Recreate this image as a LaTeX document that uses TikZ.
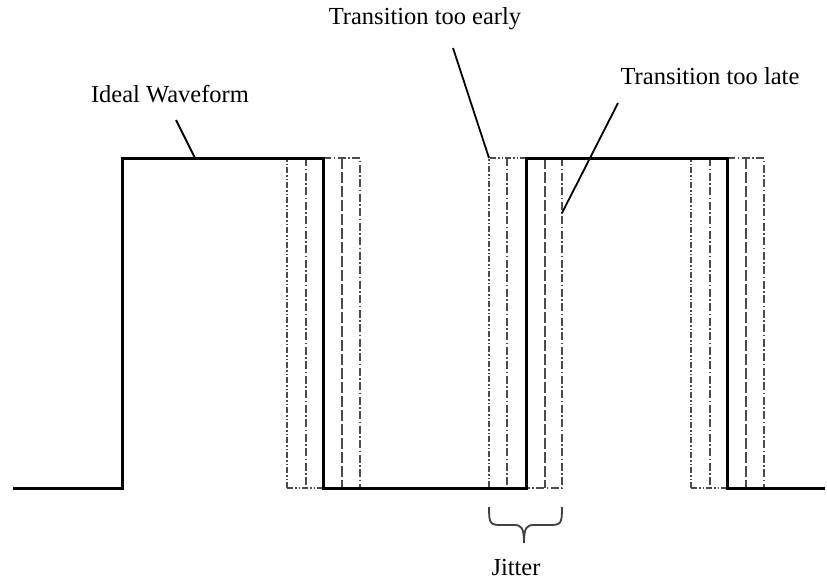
\documentclass[tikz,border=0pt]{standalone}
\usepackage{fontspec}
\setmainfont{Liberation Serif}
\begin{document}
\begin{tikzpicture}[x=1pt,y=-1pt,
  wave/.style={line width=3pt,black,line join=miter},
  jit/.style={line width=2pt,black!70},
  dd/.style={jit,dash pattern=on 6pt off 2pt on 1.5pt off 2pt on 1.5pt off 2pt},
  dt/.style={jit,dash pattern=on 8pt off 2.5pt on 1.5pt off 2.5pt},
  ld/.style={jit,dash pattern=on 11pt off 3pt},
  lbl/.style={font=\fontsize{24.5}{29}\selectfont,inner sep=0pt,text=black},
  lead/.style={line width=1.8pt,black}]
\useasboundingbox (0,0) rectangle (827,582);
% jitter edges (dashed)
\foreach \e in {323,727}{
  \draw[dd] (\e-36,488) -- (\e-36,158);
  \draw[dd] (\e-36,488) -- (\e,488);
  \draw[dt] (\e-17,158) -- (\e-17,488);
  \draw[ld] (\e+19,158) -- (\e+19,488);
  \draw[dt] (\e,158) -- (\e+37,158) -- (\e+37,488);
}
\draw[dd] (526,158) -- (489,158) -- (489,488);
\draw[dt] (507,158) -- (507,488);
\draw[ld] (545,158) -- (545,488);
\draw[dt] (562,158) -- (562,488) -- (526,488);
% ideal waveform
\draw[wave] (13,488) -- (122,488) -- (122,158) -- (323,158) -- (323,488)
  -- (526,488) -- (526,158) -- (727,158) -- (727,488) -- (825,488);
% labels
\node[lbl] (ideal) at (170,94) {Ideal Waveform};
\node[lbl] (early) at (425,19) {Transition too early};
\node[lbl] (late) at (710,76) {Transition too late};
\node[lbl] (jitter) at (516,567) {Jitter};
\coordinate (ideal0) at (176,120);
\coordinate (ideal1) at (195,158);
\coordinate (early0) at (453,48);
\coordinate (early1) at (489,158);
\coordinate (late0) at (618,103);
\coordinate (late1) at (562,213);
\draw[lead] (ideal0) -- (ideal1);
\draw[lead] (early0) -- (early1);
\draw[lead] (late0) -- (late1);
% brace
\coordinate (bl) at (489,507);
\coordinate (br) at (562,507);
\coordinate (btip) at (524,543);
\draw[line width=1.8pt,black!75]
  (bl) .. controls (489,524) and (490,525) .. (502,525) -- (514,525)
  .. controls (521,525) and (524,527) .. (btip)
  .. controls (524,527) and (527,525) .. (534,525) -- (549,525)
  .. controls (561,525) and (562,524) .. (br);
\end{tikzpicture}
\end{document}
